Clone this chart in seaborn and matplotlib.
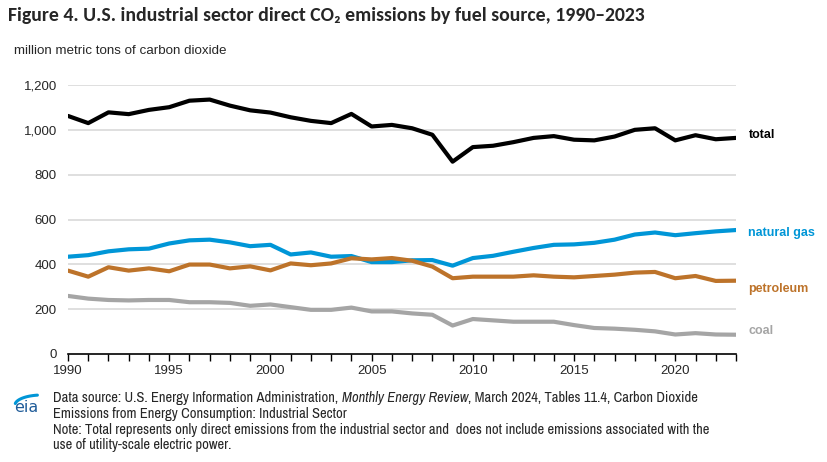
import numpy as np
import pandas as pd
import matplotlib
matplotlib.use('Agg')
import matplotlib.pyplot as plt
import seaborn as sns
from matplotlib import font_manager

years = list(range(1990, 2024))

total = [1062, 1030, 1078, 1070, 1089, 1101, 1130, 1135, 1108, 1087,
         1077, 1056, 1040, 1030, 1071, 1015, 1022, 1007, 978, 858,
         923, 929, 945, 964, 972, 956, 953, 970, 1000, 1007,
         953, 976, 958, 964]
natural_gas = [434, 441, 458, 467, 470, 493, 507, 510, 498, 481,
               487, 444, 453, 434, 437, 410, 410, 418, 419, 394,
               428, 438, 456, 473, 487, 489, 496, 510, 533, 542,
               530, 539, 547, 553]
petroleum = [372, 345, 387, 372, 382, 369, 399, 399, 382, 391,
             373, 404, 396, 404, 427, 422, 428, 416, 390, 338,
             345, 345, 345, 351, 345, 342, 348, 354, 363, 366,
             338, 348, 326, 327]
coal = [259, 247, 241, 239, 241, 241, 231, 231, 228, 215,
        221, 209, 197, 197, 207, 190, 190, 181, 175, 127,
        156, 150, 144, 144, 144, 129, 116, 113, 108, 101,
        87, 93, 87, 86]

series_names = ['total', 'natural gas', 'petroleum', 'coal']
colors = {'total': '#000000', 'natural gas': '#0096d7',
          'petroleum': '#bd732a', 'coal': '#a5a5a5'}

df = pd.DataFrame({'year': years, 'total': total, 'natural gas': natural_gas,
                   'petroleum': petroleum, 'coal': coal})
long_df = df.melt(id_vars='year', var_name='fuel', value_name='emissions')

# pick installed fonts close to the original (Calibri / Arial Narrow)
installed = set(f.name for f in font_manager.fontManager.ttflist)
def pick(cands):
    return [c for c in cands if c in installed] + ['Liberation Sans', 'DejaVu Sans']

title_font = pick(['Carlito', 'Calibri'])
note_font = pick(['Liberation Sans Narrow', 'Arial Narrow', 'Archivo Narrow'])

sns.set_style('white')
plt.rcParams['font.family'] = ['Liberation Sans', 'DejaVu Sans']

W, H = 827, 462
fig = plt.figure(figsize=(8.27, 4.62), dpi=100)
ax = fig.add_axes([68 / W, 1 - 354 / H, 668 / W, 269 / H])

sns.lineplot(data=long_df, x='year', y='emissions', hue='fuel',
             hue_order=series_names, palette=colors, linewidth=3,
             legend=False, ax=ax)

ax.set_xlim(1990, 2023)
ax.set_ylim(0, 1200)
ax.set_yticks(range(0, 1201, 200))
ax.set_yticklabels([f'{v:,}' for v in range(0, 1201, 200)])
ax.set_xticks(years, minor=True)
ax.set_xticks(range(1990, 2021, 5))
ax.set_xlabel('')
ax.set_ylabel('')
for yv in range(200, 1201, 200):
    ax.axhline(yv, color='#d9d9d9', linewidth=1.2, zorder=0)
for s in ['top', 'right', 'left']:
    ax.spines[s].set_visible(False)
ax.spines['bottom'].set_color('black')
ax.spines['bottom'].set_linewidth(1.2)
ax.tick_params(axis='x', which='both', direction='out', length=5, width=1,
               color='black', labelsize=9.5, pad=3, bottom=True)
ax.tick_params(axis='y', length=0, labelsize=9.5, pad=8)

# series labels at the right end of the lines
label_y = {'total': 975, 'natural gas': 538, 'petroleum': 290, 'coal': 102}
for name in series_names:
    ax.annotate(name, xy=(2023, label_y[name]), xytext=(9, 0),
                textcoords='offset points', ha='left', va='center',
                fontsize=9, fontweight='bold', color=colors[name],
                annotation_clip=False)


def width_of(txt):
    fig.canvas.draw()
    return txt.get_window_extent().width


t = fig.text(8 / W, 1 - 15 / H, 'Figure 4. U.S. industrial sector direct CO₂ emissions by fuel source, 1990–2023',
             fontsize=12, fontweight='bold', ha='left', va='center', family=title_font)
t.set_fontsize(12 * 637 / width_of(t))
fig.text(14 / W, 1 - 51 / H, 'million metric tons of carbon dioxide', fontsize=9.6,
         ha='left', va='center')

nx = 53 / W
ny = [398, 414, 430, 445]
note3 = 'Note: Total represents only direct emissions from the industrial sector and  does not include emissions associated with the'
probe = fig.text(nx, 1 - ny[2] / H, note3, fontsize=10, ha='left', va='center', family=note_font)
fs = 10 * (708 - 53) / width_of(probe)
probe.set_fontsize(fs)

t1 = fig.text(nx, 1 - ny[0] / H, 'Data source: U.S. Energy Information Administration, ',
              fontsize=fs, ha='left', va='center', family=note_font)
fig.canvas.draw()
t2 = fig.text(t1.get_window_extent().x1 / W, 1 - ny[0] / H, 'Monthly Energy Review', fontsize=fs,
              style='italic', ha='left', va='center', family=note_font)
fig.canvas.draw()
fig.text(t2.get_window_extent().x1 / W, 1 - ny[0] / H, ', March 2024, Tables 11.4, Carbon Dioxide',
         fontsize=fs, ha='left', va='center', family=note_font)
fig.text(nx, 1 - ny[1] / H, 'Emissions from Energy Consumption: Industrial Sector',
         fontsize=fs, ha='left', va='center', family=note_font)
fig.text(nx, 1 - ny[3] / H, 'use of utility-scale electric power.',
         fontsize=fs, ha='left', va='center', family=note_font)

# eia logo
lax = fig.add_axes([10 / W, 1 - 416 / H, 36 / W, 28 / H])
lax.set_xlim(10, 46)
lax.set_ylim(416, 388)
lax.axis('off')
lax.text(14, 412, 'eia', fontsize=11.5, color='#1f5c99', ha='left', va='baseline',
         family='DejaVu Sans')
tt = np.linspace(0.15, 1.4, 30)
lax.plot(42 - 27 * np.cos(tt), 405 - 10 * np.sin(tt), color='#0096d7',
         linewidth=2.2, solid_capstyle='round')

fig.savefig('out.png', dpi=100)
